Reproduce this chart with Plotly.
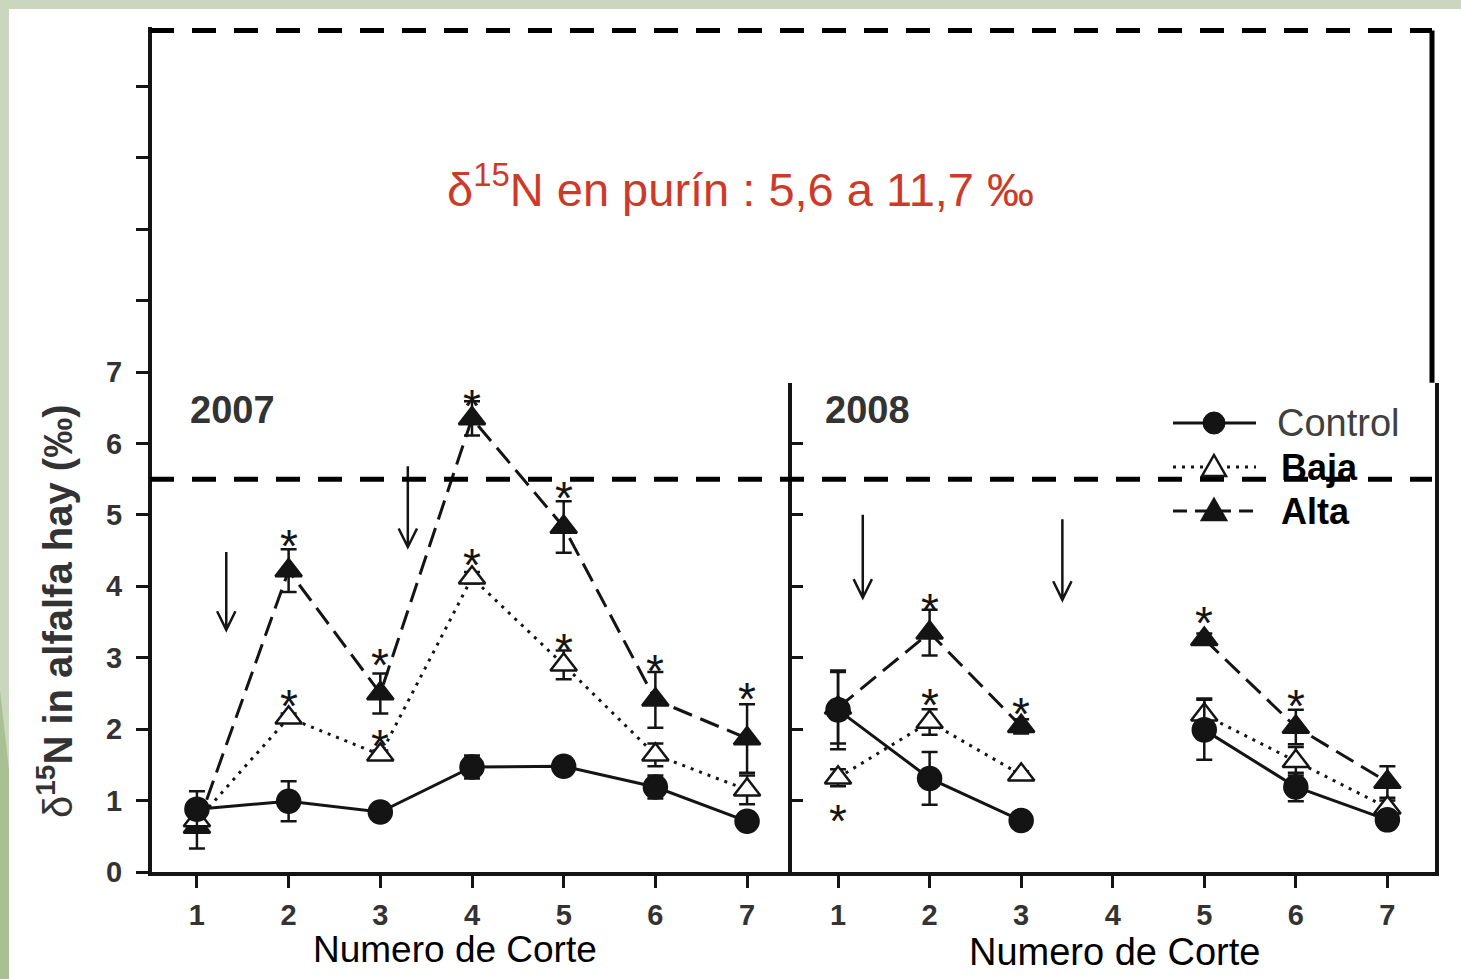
import plotly.graph_objects as go

# ---------------- data ----------------
cortes = [1, 2, 3, 4, 5, 6, 7]

control_2007 = [0.88, 0.99, 0.84, 1.47, 1.48, 1.19, 0.71]
control_2007_err = [0.25, 0.28, 0.10, 0.16, 0.05, 0.16, 0.07]
baja_2007 = [0.72, 2.16, 1.64, 4.12, 2.90, 1.64, 1.15]
baja_2007_err = [0.10, 0.06, 0.06, 0.08, 0.20, 0.16, 0.20]
alta_2007 = [0.63, 4.22, 2.50, 6.35, 4.83, 2.41, 1.87]
alta_2007_err = [0.30, 0.30, 0.28, 0.24, 0.36, 0.39, 0.48]

control_2008 = [2.27, 1.31, 0.72, None, 1.99, 1.19, 0.73]
control_2008_err = [0.55, 0.37, 0.05, None, 0.42, 0.20, 0.08]
baja_2008 = [1.32, 2.10, 1.36, None, 2.20, 1.55, 0.90]
baja_2008_err = [0.12, 0.18, 0.05, None, 0.23, 0.20, 0.10]
alta_2008 = [2.30, 3.35, 2.04, None, 3.26, 2.03, 1.26]
alta_2008_err = [0.50, 0.32, 0.10, None, 0.08, 0.24, 0.22]

# significance stars (x, y)
stars_2007_x = [2, 2, 3, 3, 4, 4, 5, 5, 6, 7]
stars_2007_y = [4.75, 2.50, 3.08, 1.94, 6.70, 4.48, 5.42, 3.29, 3.00, 2.60]
stars_2008_x = [1, 2, 2, 3, 5, 6]
stars_2008_y = [0.90, 3.85, 2.52, 2.40, 3.67, 2.50]

# fertilisation arrows (x, top, bottom)
arrows_2007 = [(1.32, 4.48, 3.39), (3.30, 5.68, 4.55)]
arrows_2008 = [(1.27, 5.00, 3.84), (3.45, 4.94, 3.81)]

box_low, box_high = 5.5, 11.78   # slurry δ15N range box

ytick_vals = [0, 1, 2, 3, 4, 5, 6, 7]
ytick_minor = [8, 9, 10, 11]

# ---------------- helpers ----------------
W, H = 1461, 979
def PX(x):
    return x / W
def PY(y):
    return 1 - y / H

INK = "#141414"
FONT = "Liberation Sans, Arial, sans-serif"

fig = go.Figure()

def add_series(xref, yref, ys, errs, name, symbol, dash, fill):
    fig.add_trace(go.Scatter(
        x=cortes, y=ys, xaxis=xref, yaxis=yref, name=name, showlegend=False,
        mode="lines+markers", connectgaps=False,
        line=dict(color=INK, width=3, dash=dash),
        marker=dict(symbol=symbol, size=23, color=fill,
                    line=dict(color=INK, width=2.5)),
        error_y=dict(type="data", array=errs, color=INK, thickness=2.5, width=8),
    ))

for xr, yr, c, ce, b, be, a, ae in [
    ("x", "y", control_2007, control_2007_err, baja_2007, baja_2007_err, alta_2007, alta_2007_err),
    ("x2", "y2", control_2008, control_2008_err, baja_2008, baja_2008_err, alta_2008, alta_2008_err),
]:
    add_series(xr, yr, a, ae, "Alta", "triangle-up", "20px,9px", INK)
    add_series(xr, yr, b, be, "Baja", "triangle-up", "3px,6px", "white")
    add_series(xr, yr, c, ce, "Control", "circle", "solid", INK)

annotations = []
for xr, yr, sx, sy in [("x", "y", stars_2007_x, stars_2007_y), ("x2", "y2", stars_2008_x, stars_2008_y)]:
    for x, y in zip(sx, sy):
        annotations.append(dict(x=x, y=y, xref=xr, yref=yr, text="*", showarrow=False,
                                yshift=-13, font=dict(size=46, color=INK, family=FONT)))

shapes = []
# slide background
shapes.append(dict(type="rect", xref="paper", yref="paper", x0=PX(9), x1=1.0, y0=0, y1=PY(9),
                   fillcolor="white", line=dict(width=0), layer="below"))
shapes.append(dict(type="path", xref="paper", yref="paper",
                   path=f"M 0,{PY(690)} L {PX(9)},{PY(770)} L {PX(9)},0 L 0,0 Z",
                   fillcolor="#a9bf94", line=dict(width=0), layer="below"))

# arrows
for xr, yr, arrs in [("x", "y", arrows_2007), ("x2", "y2", arrows_2008)]:
    for x, top, bot in arrs:
        dx, dy = 0.10, 0.26
        shapes.append(dict(type="path", xref=xr, yref=yr,
                           path=f"M {x},{top} L {x},{bot} M {x-dx},{bot+dy} L {x},{bot} L {x+dx},{bot+dy}",
                           line=dict(color=INK, width=2.5)))

# slurry box: dashed top and bottom, solid right side
for yv in (box_low, box_high):
    shapes.append(dict(type="line", xref="paper", yref="y", x0=PX(150), x1=PX(1432), y0=yv, y1=yv,
                       line=dict(color="black", width=5, dash="24px,18px")))
shapes.append(dict(type="line", xref="paper", yref="y", x0=PX(1432), x1=PX(1432), y0=6.85, y1=box_high,
                   line=dict(color="black", width=5)))

# manual legend
leg_x0, leg_x1, leg_xm = 1173, 1256, 1214
leg_rows = [(423, "solid", "circle"), (467, "3px,6px", "open"), (511, "14px,8px", "tri")]
for yy, dash, mk in leg_rows:
    shapes.append(dict(type="line", xref="paper", yref="paper", x0=PX(leg_x0), x1=PX(leg_x1),
                       y0=PY(yy), y1=PY(yy), line=dict(color=INK, width=3, dash=dash)))
    r = 11
    if mk == "circle":
        shapes.append(dict(type="circle", xref="paper", yref="paper", x0=PX(leg_xm - r), x1=PX(leg_xm + r),
                           y0=PY(yy + r), y1=PY(yy - r), fillcolor=INK, line=dict(color=INK, width=1)))
    else:
        fill = "white" if mk == "open" else INK
        p = (f"M {PX(leg_xm)},{PY(yy - 12)} L {PX(leg_xm + 12)},{PY(yy + 9)} "
             f"L {PX(leg_xm - 12)},{PY(yy + 9)} Z")
        shapes.append(dict(type="path", xref="paper", yref="paper", path=p, fillcolor=fill,
                           line=dict(color=INK, width=2.5)))

annotations += [
    dict(x=PX(1275), y=PY(423), xref="paper", yref="paper", text="Control", showarrow=False,
         xanchor="left", yanchor="middle", font=dict(size=38, color="#404040", family=FONT)),
    dict(x=PX(1279), y=PY(467), xref="paper", yref="paper", text="<b>Baja</b>", showarrow=False,
         xanchor="left", yanchor="middle", font=dict(size=36, color="black", family=FONT)),
    dict(x=PX(1279), y=PY(511), xref="paper", yref="paper", text="<b>Alta</b>", showarrow=False,
         xanchor="left", yanchor="middle", font=dict(size=36, color="black", family=FONT)),
    # year labels
    dict(x=PX(188), y=PY(410), xref="paper", yref="paper", text="<b>2007</b>", showarrow=False,
         xanchor="left", yanchor="middle", font=dict(size=38, color="#333333", family=FONT)),
    dict(x=PX(823), y=PY(410), xref="paper", yref="paper", text="<b>2008</b>", showarrow=False,
         xanchor="left", yanchor="middle", font=dict(size=38, color="#333333", family=FONT)),
    # red title
    dict(x=PX(740), y=PY(186), xref="paper", yref="paper",
         text="δ<sup>15</sup>N en purín : 5,6 a 11,7 ‰", showarrow=False,
         xanchor="center", yanchor="middle", font=dict(size=47, color="#cc3b2a", family=FONT)),
    # y title
    dict(x=PX(55), y=PY(612), xref="paper", yref="paper",
         text="δ<b><sup>15</sup>N in alfalfa hay (‰)</b>", showarrow=False, textangle=-90,
         xanchor="center", yanchor="middle", font=dict(size=40, color="#333333", family=FONT)),
    # x titles
    dict(x=PX(455), y=PY(949), xref="paper", yref="paper", text="Numero de Corte", showarrow=False,
         xanchor="center", yanchor="middle", font=dict(size=37, color="black", family=FONT)),
    dict(x=PX(1114), y=PY(952), xref="paper", yref="paper", text="Numero de Corte", showarrow=False,
         xanchor="center", yanchor="middle", font=dict(size=38, color="black", family=FONT)),
]

tickfont = dict(size=29, color="#333333", family=FONT, weight="bold")
xcommon = dict(tickmode="array", tickvals=cortes, ticktext=[str(c) for c in cortes],
               ticks="outside", ticklen=12, tickwidth=3, tickcolor=INK,
               showline=True, linecolor=INK, linewidth=3.5, showgrid=False, zeroline=False,
               tickfont=tickfont, ticklabelstandoff=2, automargin=False, fixedrange=True)

fig.update_layout(
    template="none",
    width=W, height=H, autosize=False,
    margin=dict(l=0, r=0, t=0, b=0, pad=0),
    paper_bgcolor="#cad7be", plot_bgcolor="rgba(0,0,0,0)",
    font=dict(family=FONT),
    xaxis=dict(domain=[PX(152), PX(792)], range=[0.51, 7.49], anchor="y", **xcommon),
    xaxis2=dict(domain=[PX(792), PX(1435)], range=[0.497, 7.52], anchor="y2", **xcommon),
    yaxis=dict(domain=[PY(872), PY(27)], range=[0, 11.83], anchor="x",
               tickmode="array", tickvals=ytick_vals, ticktext=[str(v) for v in ytick_vals],
               ticks="outside", ticklen=12, tickwidth=3, tickcolor=INK,
               minor=dict(tickmode="array", tickvals=ytick_minor, ticks="outside",
                          ticklen=12, tickwidth=3, tickcolor=INK, showgrid=False),
               showline=True, linecolor=INK, linewidth=4, showgrid=False, zeroline=False,
               tickfont=tickfont, ticklabelstandoff=8, automargin=False),
    yaxis2=dict(domain=[PY(872), PY(383)], range=[0, 6.846], anchor="x2",
                tickmode="array", tickvals=[1, 2, 3, 4, 5, 6], showticklabels=False,
                ticks="inside", ticklen=11, tickwidth=3, tickcolor=INK,
                showline=True, mirror=True, linecolor=INK, linewidth=3.5,
                showgrid=False, zeroline=False, automargin=False),
    shapes=shapes,
    annotations=annotations,
    showlegend=False,
)

fig.write_html("out.html")
